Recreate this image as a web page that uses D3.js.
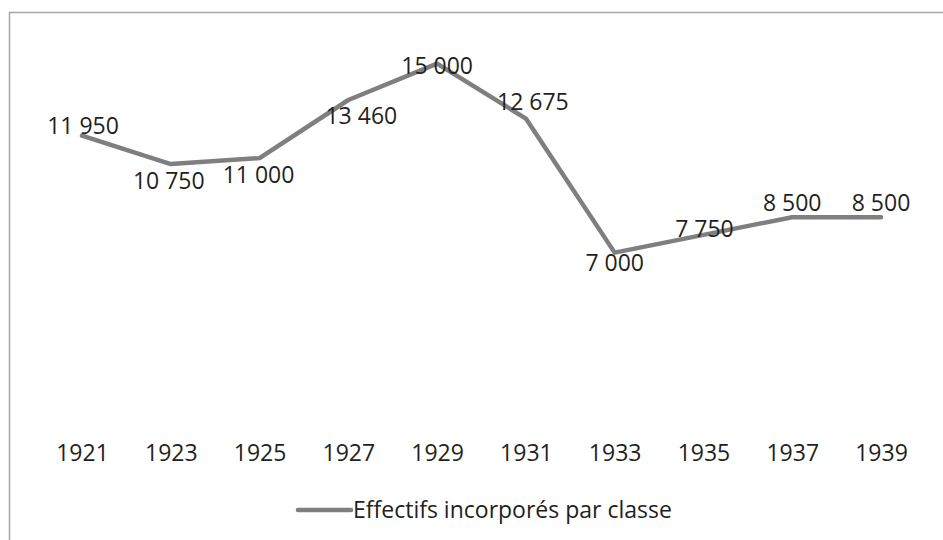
<!DOCTYPE html>
<html>
<head>
<meta charset="utf-8">
<script src="https://cdn.jsdelivr.net/npm/d3@7"></script>
<style>
  body { margin: 0; background: #fff; }
  text { font-family: "Open Sans", "Noto Sans", sans-serif; fill: #231f20; }
</style>
</head>
<body>
<script>
"use strict"

// data
const years  = ["1921", "1923", "1925", "1927", "1929", "1931", "1933", "1935", "1937", "1939"]
const values = [11950, 10750, 11000, 13460, 15000, 12675, 7000, 7750, 8500, 8500]
const seriesName = "Effectifs incorporés par classe"

// data label nudges relative to each point (dx, dy)
const labelOffset = [[1, -10], [-2, 17], [-1, 17], [13, 16], [0, 2], [7, -17], [0, 10], [1, -6], [0, -14], [0, -14]]

const W = 943, H = 540
const FONT = 23
const fmt = v => d3.format(",")(v).replace(/,/g, " ")

const x = d3.scalePoint().domain(years).range([82, 881])
const y = d3.scaleLinear().domain([0, 16000]).range([418, 40])

const svg = d3.select("body").append("svg")
  .attr("width", W)
  .attr("height", H)

// chart frame (runs past the right and bottom edges of the picture)
svg.append("rect")
  .attr("x", 9.5).attr("y", 12.5)
  .attr("width", 960).attr("height", 560)
  .attr("fill", "none").attr("stroke", "#a6a6a6").attr("stroke-width", 1.5)

// category labels
const xAxis = svg.append("g")
  .attr("transform", "translate(0, 453)")
  .call(d3.axisBottom(x).tickSize(0).tickPadding(0))
xAxis.select(".domain").remove()
xAxis.selectAll("text")
  .attr("y", 0).attr("dy", "0.35em")
  .attr("font-size", FONT)
  .style("font-family", "'Open Sans', sans-serif")
  .attr("fill", "#231f20")

// line
const line = d3.line()
  .x((d, i) => x(years[i]))
  .y(d => y(d))

svg.append("path")
  .datum(values)
  .attr("d", line)
  .attr("fill", "none")
  .attr("stroke", "#7f7f80")
  .attr("stroke-width", 4.5)
  .attr("stroke-linejoin", "round")
  .attr("stroke-linecap", "round")

// data labels
svg.append("g").selectAll("text")
  .data(values)
  .join("text")
  .attr("x", (d, i) => x(years[i]) + labelOffset[i][0])
  .attr("y", (d, i) => y(d) + labelOffset[i][1])
  .attr("dy", "0.35em")
  .attr("text-anchor", "middle")
  .attr("font-size", FONT)
  .text(fmt)

// legend
const legend = svg.append("g").attr("transform", "translate(298, 510)")
legend.append("line")
  .attr("x1", 0).attr("x2", 53)
  .attr("stroke", "#7f7f80").attr("stroke-width", 4.5).attr("stroke-linecap", "round")
legend.append("text")
  .attr("x", 55).attr("dy", "0.35em")
  .attr("font-size", FONT)
  .text(seriesName)
</script>
</body>
</html>
